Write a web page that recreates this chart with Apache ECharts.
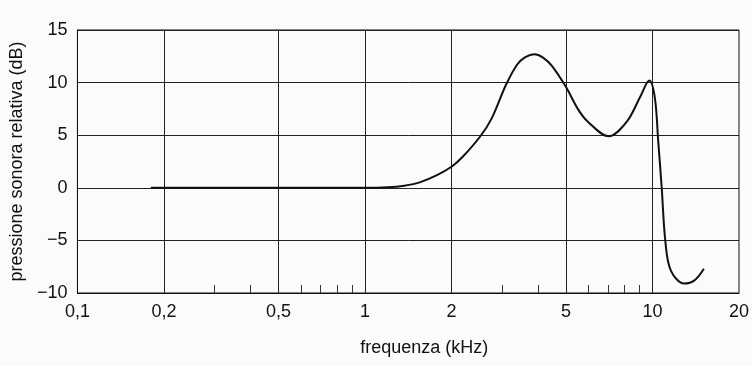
<!DOCTYPE html>
<html><head><meta charset="utf-8">
<script src="https://cdn.jsdelivr.net/npm/echarts@6/dist/echarts.min.js"></script>
<style>html,body{margin:0;padding:0;background:#fcfafc}#c{width:752px;height:366px}</style>
</head><body><div id="c"></div>
<script>
const freqKHz = [0.18,0.5,1.0,1.2,1.37,1.56,1.78,2.0,2.18,2.52,2.76,3.09,3.38,3.6,3.89,4.15,4.47,5.0,5.5,5.95,7.05,8.15,9.05,9.75,10.19,10.47,10.77,11.1,11.6,12.9,14.0,15.1];
const pressureDb = [0,0,0,0.05,0.2,0.54,1.2,2.0,2.9,4.9,6.6,9.75,11.7,12.4,12.7,12.4,11.6,9.6,7.5,6.3,4.9,6.3,8.6,10.2,8.6,4.5,0,-5.2,-7.9,-9.1,-8.8,-7.7];
const xLabelValues = [0.1,0.2,0.5,1,2,5,10,20];
const xGridValues = [0.2,0.5,1,2,5,10];
const xMinorTicks = [0.3,0.4,0.6,0.7,0.8,0.9,3,4,6,7,8,9];
const yTicks = [-10,-5,0,5,10,15];

const font = '"Liberation Sans", Arial, sans-serif';
const chart = echarts.init(document.getElementById('c'), null, {renderer:'canvas'});
chart.setOption({
  backgroundColor:'#fcfafc',
  animation:false,
  grid:{left:76,right:12,top:30,bottom:73,show:true,borderColor:'#111',borderWidth:1,backgroundColor:'transparent'},
  xAxis:{
    type:'log', logBase:10, min:0.1, max:20,
    name:'frequenza (kHz)', nameLocation:'middle', nameGap:46,
    nameTextStyle:{fontFamily:font,fontSize:18,color:'#111',padding:[0,0,0,32]},
    axisLine:{show:true,onZero:false,lineStyle:{color:'#111',width:1}},
    axisTick:{show:true,inside:true,length:8,customValues:xMinorTicks,lineStyle:{color:'#333'}},
    axisLabel:{customValues:xLabelValues,margin:10,fontFamily:font,fontSize:18,color:'#111',
      formatter:v=>String(v).replace('.',',')},
    splitLine:{show:false},
    minorTick:{show:false}
  },
  yAxis:{
    type:'value', min:yTicks[0], max:yTicks[yTicks.length-1], interval:5,
    name:'pressione sonora relativa (dB)', nameLocation:'middle', nameGap:50,
    nameTextStyle:{fontFamily:font,fontSize:18,color:'#111'},
    axisLine:{show:true,onZero:false,lineStyle:{color:'#111'}},
    axisTick:{show:false},
    axisLabel:{margin:10,fontFamily:font,fontSize:18,color:'#111',formatter:v=>String(v).replace('-','\u2212')},
    splitLine:{show:true,lineStyle:{color:'#222',width:1}}
  },
  series:[{
    type:'line',
    data:freqKHz.map((f,i)=>[f,pressureDb[i]]),
    smooth:0.35,
    showSymbol:false,
    lineStyle:{color:'#111',width:2},
    markLine:{
      silent:true, symbol:['none','none'], label:{show:false},
      lineStyle:{color:'#222',width:1,type:'solid'},
      data:xGridValues.map(v=>({xAxis:v}))
    },
    z:5
  }]
});
</script></body></html>
